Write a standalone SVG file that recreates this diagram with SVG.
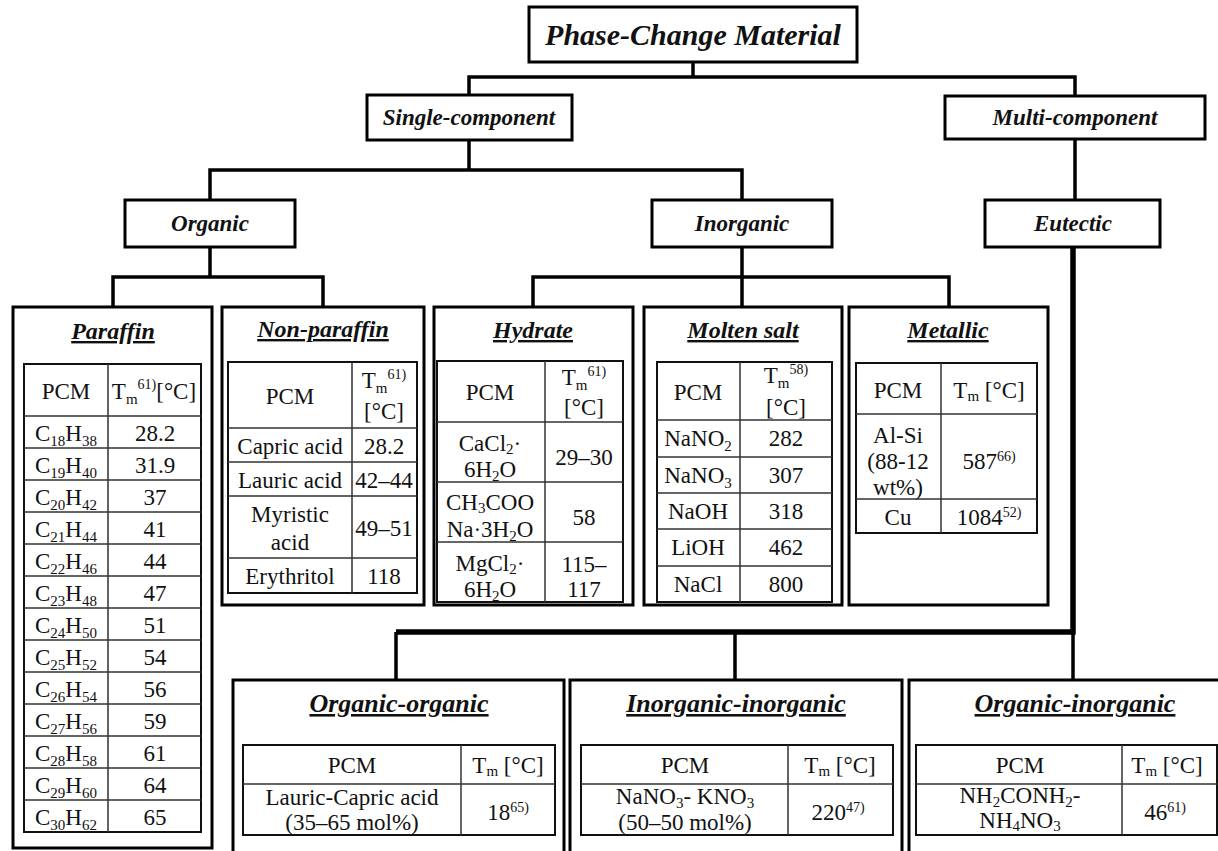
<svg xmlns="http://www.w3.org/2000/svg" width="1218" height="851" viewBox="0 0 1218 851" font-family="Liberation Serif, Times New Roman, serif">
<style>
.bg{fill:#fff}
.box{fill:#fff;stroke:#000;stroke-width:3}
.tbl{fill:none;stroke:#111;stroke-width:2}
.grid{stroke:#333;stroke-width:1.5;fill:none}
.conn{stroke:#000;stroke-width:3.5;fill:none}
.trunk{stroke:#000;stroke-width:5.5;fill:none}
.lbl{font-weight:bold;font-style:italic;font-size:23px;text-anchor:middle;fill:#111}
.big{font-size:30px}
.ttl{font-weight:bold;font-style:italic;font-size:24px;text-anchor:middle;text-decoration:underline;fill:#111}
.ttl2{font-size:26px}
.t{font-size:23px;text-anchor:middle;fill:#111}
.sub{font-size:15px}
.sup{font-size:14px}
</style>
<rect class="bg" x="0" y="0" width="1218" height="851"/>

<g id="connectors">
<path class="conn" d="M693 62V77 M469 95V77H1075V96"/>
<path class="conn" d="M469 140V170 M210 200V170H742V200"/>
<path class="conn" d="M1075 139V200"/>
<path class="conn" d="M210 247V277 M113 307V277H323V307"/>
<path class="conn" d="M742 247V307 M533 307V277H949V307"/>
<path class="trunk" d="M1073 247V632H396"/>
<path class="conn" d="M396 632V680 M735 632V680 M1073 632V680"/>
</g>

<g id="pcm">
<rect class="box" x="529" y="7" width="328" height="55"/>
<text class="lbl big" x="693" y="45">Phase-Change Material</text>
</g>
<g id="single">
<rect class="box" x="367" y="95" width="205" height="45"/>
<text class="lbl" x="469" y="125">Single-component</text>
</g>
<g id="multi">
<rect class="box" x="945" y="96" width="260" height="43"/>
<text class="lbl" x="1075" y="125">Multi-component</text>
</g>
<g id="organic">
<rect class="box" x="125" y="200" width="170" height="47"/>
<text class="lbl" x="210" y="231">Organic</text>
</g>
<g id="inorganic">
<rect class="box" x="652" y="200" width="180" height="47"/>
<text class="lbl" x="742" y="231">Inorganic</text>
</g>
<g id="eutectic">
<rect class="box" x="985" y="200" width="175" height="47"/>
<text class="lbl" x="1073" y="231">Eutectic</text>
</g>

<g id="paraffin">
<rect class="box" x="13" y="307" width="199" height="541"/>
<text class="ttl" x="113" y="339">Paraffin</text>
<rect class="tbl" x="24" y="364" width="177" height="468"/>
<path class="grid" d="M108 364V832 M24 416H201 M24 448H201 M24 480H201 M24 512H201 M24 544H201 M24 576H201 M24 608H201 M24 640H201 M24 672H201 M24 704H201 M24 736H201 M24 768H201 M24 800H201"/>
<text class="t" x="66" y="399">PCM</text>
<text class="t" x="154" y="399">T<tspan class="sub" dy="5">m</tspan><tspan class="sup" dy="-15">61)</tspan><tspan dy="10">[°C]</tspan></text>
<text class="t" x="66" y="441">C<tspan class="sub" dy="5">18</tspan><tspan dy="-5">H</tspan><tspan class="sub" dy="5">38</tspan></text><text class="t" x="155" y="441">28.2</text>
<text class="t" x="66" y="473">C<tspan class="sub" dy="5">19</tspan><tspan dy="-5">H</tspan><tspan class="sub" dy="5">40</tspan></text><text class="t" x="155" y="473">31.9</text>
<text class="t" x="66" y="505">C<tspan class="sub" dy="5">20</tspan><tspan dy="-5">H</tspan><tspan class="sub" dy="5">42</tspan></text><text class="t" x="155" y="505">37</text>
<text class="t" x="66" y="537">C<tspan class="sub" dy="5">21</tspan><tspan dy="-5">H</tspan><tspan class="sub" dy="5">44</tspan></text><text class="t" x="155" y="537">41</text>
<text class="t" x="66" y="569">C<tspan class="sub" dy="5">22</tspan><tspan dy="-5">H</tspan><tspan class="sub" dy="5">46</tspan></text><text class="t" x="155" y="569">44</text>
<text class="t" x="66" y="601">C<tspan class="sub" dy="5">23</tspan><tspan dy="-5">H</tspan><tspan class="sub" dy="5">48</tspan></text><text class="t" x="155" y="601">47</text>
<text class="t" x="66" y="633">C<tspan class="sub" dy="5">24</tspan><tspan dy="-5">H</tspan><tspan class="sub" dy="5">50</tspan></text><text class="t" x="155" y="633">51</text>
<text class="t" x="66" y="665">C<tspan class="sub" dy="5">25</tspan><tspan dy="-5">H</tspan><tspan class="sub" dy="5">52</tspan></text><text class="t" x="155" y="665">54</text>
<text class="t" x="66" y="697">C<tspan class="sub" dy="5">26</tspan><tspan dy="-5">H</tspan><tspan class="sub" dy="5">54</tspan></text><text class="t" x="155" y="697">56</text>
<text class="t" x="66" y="729">C<tspan class="sub" dy="5">27</tspan><tspan dy="-5">H</tspan><tspan class="sub" dy="5">56</tspan></text><text class="t" x="155" y="729">59</text>
<text class="t" x="66" y="761">C<tspan class="sub" dy="5">28</tspan><tspan dy="-5">H</tspan><tspan class="sub" dy="5">58</tspan></text><text class="t" x="155" y="761">61</text>
<text class="t" x="66" y="793">C<tspan class="sub" dy="5">29</tspan><tspan dy="-5">H</tspan><tspan class="sub" dy="5">60</tspan></text><text class="t" x="155" y="793">64</text>
<text class="t" x="66" y="825">C<tspan class="sub" dy="5">30</tspan><tspan dy="-5">H</tspan><tspan class="sub" dy="5">62</tspan></text><text class="t" x="155" y="825">65</text>
</g>

<g id="nonparaffin">
<rect class="box" x="222" y="307" width="202" height="298"/>
<text class="ttl" x="323" y="337">Non-paraffin</text>
<rect class="tbl" x="228" y="362" width="189" height="231"/>
<path class="grid" d="M352 362V593 M228 428H417 M228 462H417 M228 496H417 M228 558H417"/>
<text class="t" x="290" y="404">PCM</text>
<text class="t" x="384" y="388">T<tspan class="sub" dy="5">m</tspan><tspan class="sup" dy="-14">61)</tspan></text>
<text class="t" x="384" y="419">[°C]</text>
<text class="t" x="290" y="454">Capric acid</text><text class="t" x="384" y="454">28.2</text>
<text class="t" x="290" y="488">Lauric acid</text><text class="t" x="384" y="488">42–44</text>
<text class="t" x="290" y="522">Myristic</text><text class="t" x="290" y="550">acid</text><text class="t" x="384" y="536">49–51</text>
<text class="t" x="290" y="584">Erythritol</text><text class="t" x="384" y="584">118</text>
</g>

<g id="hydrate">
<rect class="box" x="434" y="307" width="199" height="298"/>
<text class="ttl" x="533" y="338">Hydrate</text>
<rect class="tbl" x="437" y="361" width="186" height="241"/>
<path class="grid" d="M545 361V602 M437 422H623 M437 482H623 M437 542H623"/>
<text class="t" x="490" y="400">PCM</text>
<text class="t" x="584" y="385">T<tspan class="sub" dy="5">m</tspan><tspan class="sup" dy="-14">61)</tspan></text>
<text class="t" x="584" y="415">[°C]</text>
<text class="t" x="490" y="451">CaCl<tspan class="sub" dy="3">2</tspan><tspan dy="-3">·</tspan></text>
<text class="t" x="490" y="477">6H<tspan class="sub" dy="4">2</tspan><tspan dy="-4">O</tspan></text>
<text class="t" x="584" y="465">29–30</text>
<text class="t" x="490" y="510">CH<tspan class="sub" dy="3">3</tspan><tspan dy="-3">COO</tspan></text>
<text class="t" x="490" y="537">Na·3H<tspan class="sub" dy="4">2</tspan><tspan dy="-4">O</tspan></text>
<text class="t" x="584" y="525">58</text>
<text class="t" x="490" y="571">MgCl<tspan class="sub" dy="3">2</tspan><tspan dy="-3">·</tspan></text>
<text class="t" x="490" y="597">6H<tspan class="sub" dy="4">2</tspan><tspan dy="-4">O</tspan></text>
<text class="t" x="584" y="572">115–</text>
<text class="t" x="584" y="597">117</text>
</g>

<g id="moltensalt">
<rect class="box" x="644" y="307" width="198" height="298"/>
<text class="ttl" x="743" y="338">Molten salt</text>
<rect class="tbl" x="657" y="362" width="175" height="240"/>
<path class="grid" d="M740 362V602 M657 420H832 M657 457H832 M657 493H832 M657 529H832 M657 566H832"/>
<text class="t" x="698" y="400">PCM</text>
<text class="t" x="786" y="383">T<tspan class="sub" dy="5">m</tspan><tspan class="sup" dy="-14">58)</tspan></text>
<text class="t" x="786" y="415">[°C]</text>
<text class="t" x="698" y="446">NaNO<tspan class="sub" dy="5">2</tspan></text><text class="t" x="786" y="446">282</text>
<text class="t" x="698" y="483">NaNO<tspan class="sub" dy="5">3</tspan></text><text class="t" x="786" y="483">307</text>
<text class="t" x="698" y="519">NaOH</text><text class="t" x="786" y="519">318</text>
<text class="t" x="698" y="555">LiOH</text><text class="t" x="786" y="555">462</text>
<text class="t" x="698" y="592">NaCl</text><text class="t" x="786" y="592">800</text>
</g>

<g id="metallic">
<rect class="box" x="849" y="307" width="199" height="298"/>
<text class="ttl" x="948" y="338">Metallic</text>
<rect class="tbl" x="856" y="363" width="181" height="170"/>
<path class="grid" d="M941 363V533 M856 414H1037 M856 499H1037"/>
<text class="t" x="898" y="398">PCM</text>
<text class="t" x="989" y="398">T<tspan class="sub" dy="3">m</tspan><tspan dy="-3"> [°C]</tspan></text>
<text class="t" x="898" y="443">Al-Si</text>
<text class="t" x="898" y="469">(88-12</text>
<text class="t" x="898" y="495">wt%)</text>
<text class="t" x="989" y="469">587<tspan class="sup" dy="-8">66)</tspan></text>
<text class="t" x="898" y="525">Cu</text>
<text class="t" x="989" y="525">1084<tspan class="sup" dy="-8">52)</tspan></text>
</g>

<g id="organic-organic">
<rect class="box" x="233" y="680" width="331" height="180"/>
<text class="ttl ttl2" x="399" y="712">Organic-organic</text>
<rect class="tbl" x="243" y="745" width="312" height="90"/>
<path class="grid" d="M461 745V835 M243 784H555"/>
<text class="t" x="352" y="773">PCM</text>
<text class="t" x="508" y="773">T<tspan class="sub" dy="3">m</tspan><tspan dy="-3"> [°C]</tspan></text>
<text class="t" x="352" y="805">Lauric-Capric acid</text>
<text class="t" x="352" y="830">(35–65 mol%)</text>
<text class="t" x="508" y="820">18<tspan class="sup" dy="-8">65)</tspan></text>
</g>

<g id="inorganic-inorganic">
<rect class="box" x="570" y="680" width="332" height="180"/>
<text class="ttl ttl2" x="736" y="712">Inorganic-inorganic</text>
<rect class="tbl" x="581" y="745" width="312" height="90"/>
<path class="grid" d="M788 745V835 M581 784H893"/>
<text class="t" x="685" y="804">NaNO<tspan class="sub" dy="4">3</tspan><tspan dy="-4">- KNO</tspan><tspan class="sub" dy="4">3</tspan></text>
<text class="t" x="685" y="773">PCM</text>
<text class="t" x="840" y="773">T<tspan class="sub" dy="3">m</tspan><tspan dy="-3"> [°C]</tspan></text>
<text class="t" x="685" y="830">(50–50 mol%)</text>
<text class="t" x="838" y="820">220<tspan class="sup" dy="-8">47)</tspan></text>
</g>

<g id="organic-inorganic">
<rect class="box" x="909" y="680" width="332" height="180"/>
<text class="ttl ttl2" x="1075" y="712">Organic-inorganic</text>
<rect class="tbl" x="916" y="745" width="301" height="90"/>
<path class="grid" d="M1122 745V835 M916 784H1217"/>
<text class="t" x="1020" y="773">PCM</text>
<text class="t" x="1167" y="773">T<tspan class="sub" dy="3">m</tspan><tspan dy="-3"> [°C]</tspan></text>
<text class="t" x="1020" y="803">NH<tspan class="sub" dy="4">2</tspan><tspan dy="-4">CONH</tspan><tspan class="sub" dy="4">2</tspan><tspan dy="-4">-</tspan></text>
<text class="t" x="1020" y="828">NH<tspan class="sub" dy="3">4</tspan><tspan dy="-3">NO</tspan><tspan class="sub" dy="3">3</tspan></text>
<text class="t" x="1165" y="820">46<tspan class="sup" dy="-8">61)</tspan></text>
</g>
</svg>
